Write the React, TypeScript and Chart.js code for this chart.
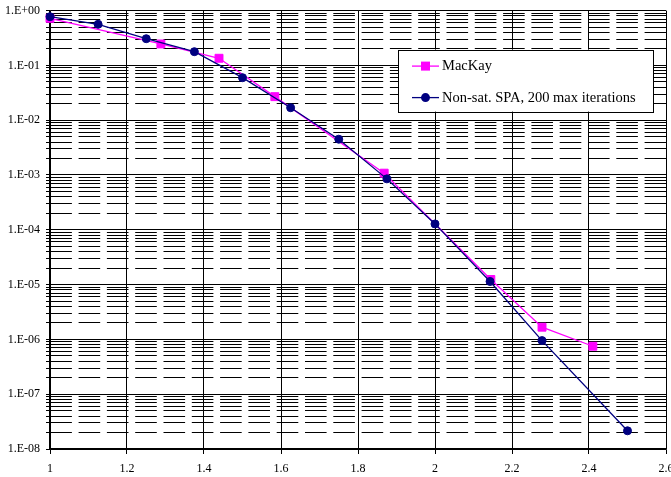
import React, { useEffect, useRef } from "react";
import { Chart, registerables } from "chart.js";

Chart.register(...registerables);

// ---- data ----
const spaLabel = "Non-sat. SPA, 200 max iterations";
const spaX = [1, 1.125, 1.25, 1.375, 1.5, 1.625, 1.75, 1.875, 2.0, 2.143, 2.278, 2.5];
const spaY = [0.774, 0.562, 0.307, 0.178, 0.0597, 0.0169, 0.0045, 8.5e-4, 1.28e-4, 1.14e-5, 9.5e-7, 2.15e-8];

const mackayLabel = "MacKay";
const mackayX = [1, 1.288, 1.439, 1.584, 1.868, 2.145, 2.278, 2.41];
const mackayY = [0.724, 0.246, 0.135, 0.0269, 1.08e-3, 1.24e-5, 1.67e-6, 7.5e-7];

const xTicks = [1, 1.2, 1.4, 1.6, 1.8, 2, 2.2, 2.4, 2.6];
const xTickLabels = ["1", "1.2", "1.4", "1.6", "1.8", "2", "2.2", "2.4", "2.6"];
const yDecades = [1e-8, 1e-7, 1e-6, 1e-5, 1e-4, 1e-3, 1e-2, 1e-1, 1];
const yDecadeLabels = ["1.E-08", "1.E-07", "1.E-06", "1.E-05", "1.E-04", "1.E-03", "1.E-02", "1.E-01", "1.E+00"];
const yMinorFactors = [2, 3, 4, 5, 6, 7, 8, 9];

const MAGENTA = "#FF00FF";
const NAVY = "#000080";
const FONT = '"Liberation Serif", "Times New Roman", serif';

const isDecade = (v: number) => {
  const l = Math.log10(v);
  return Math.abs(l - Math.round(l)) < 1e-9;
};

const decadeLabel = (v: number) => {
  for (let i = 0; i < yDecades.length; i++) {
    if (Math.abs(Math.log10(yDecades[i]) - Math.log10(v)) < 1e-9) return yDecadeLabels[i];
  }
  return "";
};

const buildYTicks = () => {
  const vals: number[] = [];
  for (let i = 0; i < yDecades.length; i++) {
    vals.push(yDecades[i]);
    if (i < yDecades.length - 1) {
      for (const f of yMinorFactors) vals.push(yDecades[i] * f);
    }
  }
  return vals.map((v) => ({ value: v, major: isDecade(v) }));
};

const legendPlugin = {
  id: "boxLegend",
  afterDraw(chart: any) {
    const ctx = chart.ctx as CanvasRenderingContext2D;
    const area = chart.chartArea;
    const w = 255;
    const h = 62;
    const x0 = area.right - 268;
    const y0 = area.top + 39;
    ctx.save();
    ctx.fillStyle = "#fff";
    ctx.fillRect(x0, y0, w, h);
    ctx.strokeStyle = "#000";
    ctx.lineWidth = 1;
    ctx.strokeRect(Math.round(x0) + 0.5, Math.round(y0) + 0.5, w, h);
    const rows = [
      { label: mackayLabel, color: MAGENTA, shape: "rect", dy: 16.5 },
      { label: spaLabel, color: NAVY, shape: "circle", dy: 48 },
    ];
    for (const r of rows) {
      const y = y0 + r.dy;
      const lx1 = x0 + 14;
      const lx2 = x0 + 41;
      const mx = (lx1 + lx2) / 2;
      ctx.strokeStyle = r.color;
      ctx.lineWidth = 1.3;
      ctx.beginPath();
      ctx.moveTo(lx1, y);
      ctx.lineTo(lx2, y);
      ctx.stroke();
      ctx.fillStyle = r.color;
      if (r.shape === "rect") {
        ctx.fillRect(mx - 4.5, y - 4.5, 9, 9);
      } else {
        ctx.beginPath();
        ctx.arc(mx, y, 4.5, 0, Math.PI * 2);
        ctx.fill();
      }
      ctx.fillStyle = "#000";
      ctx.font = `14.5px ${FONT}`;
      ctx.textBaseline = "middle";
      ctx.textAlign = "left";
      ctx.fillText(r.label, x0 + 44, y + 0.5);
    }
    ctx.restore();
  },
};

export default function App() {
  const ref = useRef<HTMLCanvasElement | null>(null);

  useEffect(() => {
    if (!ref.current) return;
    const chart = new Chart(ref.current, {
      type: "line",
      data: {
        datasets: [
          {
            label: spaLabel,
            data: spaX.map((x, i) => ({ x, y: spaY[i] })),
            borderColor: NAVY,
            backgroundColor: NAVY,
            borderWidth: 1.3,
            pointStyle: "circle",
            pointRadius: 4,
            pointBorderWidth: 1,
            pointBackgroundColor: NAVY,
            pointBorderColor: NAVY,
            tension: 0,
            clip: false as any,
            order: 0,
          },
          {
            label: mackayLabel,
            data: mackayX.map((x, i) => ({ x, y: mackayY[i] })),
            borderColor: MAGENTA,
            backgroundColor: MAGENTA,
            borderWidth: 1.3,
            pointStyle: "rect",
            pointRadius: 5.6,
            pointBorderWidth: 1,
            pointBackgroundColor: MAGENTA,
            pointBorderColor: MAGENTA,
            tension: 0,
            clip: false as any,
            order: 1,
          },
        ],
      },
      options: {
        animation: false,
        responsive: false,
        maintainAspectRatio: false,
        devicePixelRatio: 1,
        layout: { padding: { left: 0, right: 34, top: 10.6, bottom: 0 } },
        plugins: {
          legend: { display: false },
          tooltip: { enabled: false },
        },
        scales: {
          x: {
            type: "linear",
            min: 1,
            max: 2.6,
            afterBuildTicks: (axis: any) => {
              axis.ticks = xTicks.map((v) => ({ value: v }));
            },
            afterFit: (axis: any) => {
              axis.height = 28;
              axis.paddingLeft = 0;
              axis.paddingRight = 0;
            },
            ticks: {
              autoSkip: false,
              maxRotation: 0,
              padding: 8,
              color: "#000",
              font: { family: FONT, size: 12 },
              callback: (v: any) => {
                const i = xTicks.findIndex((t) => Math.abs(t - v) < 1e-9);
                return i >= 0 ? xTickLabels[i] : "";
              },
            },
            grid: {
              color: "#000",
              lineWidth: 1,
              drawTicks: true,
              tickLength: 5,
              tickColor: "#000",
            },
            border: { display: true, color: "#000", width: 1.3 },
          },
          y: {
            type: "logarithmic",
            min: 1e-8,
            max: 1,
            afterBuildTicks: (axis: any) => {
              axis.ticks = buildYTicks();
            },
            afterFit: (axis: any) => {
              axis.width = 50;
              axis.paddingTop = 0;
              axis.paddingBottom = 0;
            },
            ticks: {
              autoSkip: false,
              padding: 6,
              color: "#000",
              font: { family: FONT, size: 12 },
              callback: (v: any) => (isDecade(Number(v)) ? decadeLabel(Number(v)) : ""),
            },
            grid: {
              color: "#000",
              lineWidth: 1,
              drawTicks: true,
              tickLength: 4,
              tickColor: "#000",
            },
            border: {
              display: true,
              color: "#000",
              width: 1.3,
              dash: (ctx: any) => {
                if (!ctx || !ctx.tick) return [];
                return isDecade(ctx.tick.value) ? [] : [21.6, 6.7];
              },
            } as any,
          },
        },
      },
      plugins: [legendPlugin],
    });
    return () => chart.destroy();
  }, []);

  return (
    <div
      style={{
        position: "absolute",
        left: 0,
        top: 0,
        width: 671,
        height: 477,
        overflow: "hidden",
        background: "#fff",
      }}
    >
      <canvas ref={ref} width={700} height={477} style={{ width: 700, height: 477, display: "block" }} />
    </div>
  );
}
